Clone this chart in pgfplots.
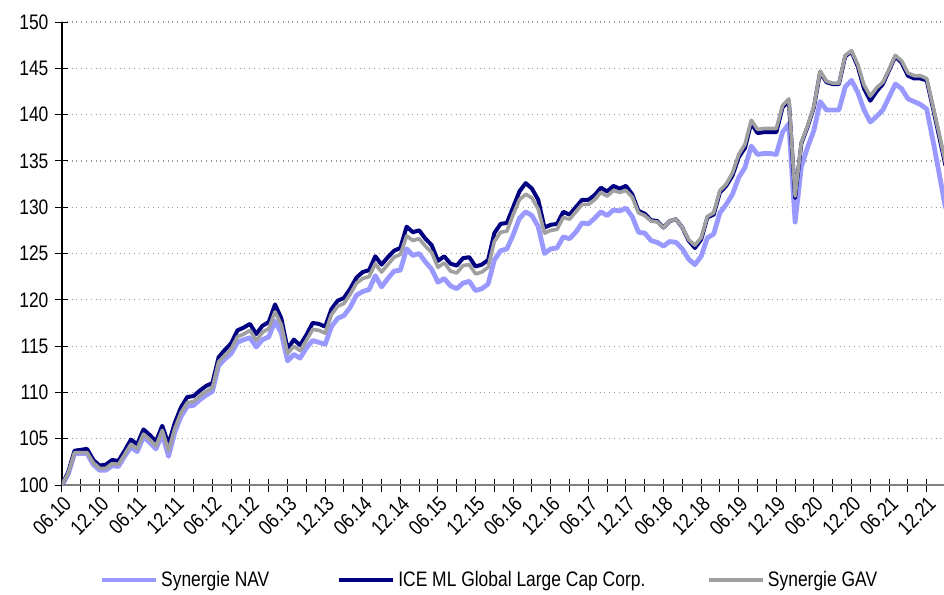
\documentclass[border=0pt]{standalone}
\usepackage{fontspec}
\setmainfont{Liberation Sans}[FakeStretch=0.83]
\usepackage{pgfplots}
\usepackage{pgfplotstable}
\pgfplotsset{compat=1.18}
\definecolor{navc}{RGB}{153,153,255}
\definecolor{icec}{RGB}{0,0,128}
\definecolor{gavc}{RGB}{160,160,160}
\pgfplotstableread{
m nav ice gav
0 100.0 100.0 100.0
1 101.2 101.4 101.3
2 103.4 103.7 103.5
3 103.4 103.8 103.5
4 103.4 103.9 103.5
5 102.2 102.7 102.4
6 101.6 102.1 101.8
7 101.6 102.2 101.8
8 102.1 102.7 102.3
9 102.0 102.6 102.2
10 103.1 103.7 103.3
11 104.1 104.9 104.4
12 103.6 104.4 103.9
13 105.2 106.0 105.5
14 104.6 105.4 104.9
15 103.9 104.7 104.2
16 105.5 106.4 105.9
17 103.1 104.4 103.7
18 105.7 106.7 106.1
19 107.4 108.4 107.8
20 108.5 109.5 108.9
21 108.6 109.6 109.0
22 109.2 110.2 109.6
23 109.7 110.7 110.1
24 110.1 111.0 110.5
25 112.9 113.8 113.3
26 113.6 114.6 114.0
27 114.2 115.3 114.7
28 115.4 116.7 116.0
29 115.7 117.0 116.3
30 115.9 117.4 116.7
31 114.9 116.3 115.6
32 115.7 117.2 116.5
33 116.0 117.6 116.9
34 117.7 119.5 118.7
35 116.4 118.0 117.3
36 113.4 114.7 114.2
37 114.1 115.7 115.0
38 113.7 115.1 114.5
39 114.8 116.2 115.6
40 115.6 117.5 116.8
41 115.4 117.4 116.7
42 115.2 117.1 116.4
43 117.1 119.0 118.4
44 118.0 119.9 119.3
45 118.3 120.2 119.6
46 119.2 121.2 120.6
47 120.5 122.4 121.8
48 120.9 123.0 122.3
49 121.1 123.2 122.5
50 122.6 124.7 123.9
51 121.4 123.8 123.0
52 122.3 124.6 123.8
53 123.1 125.3 124.6
54 123.2 125.6 124.9
55 125.5 127.9 126.9
56 124.8 127.3 126.4
57 125.0 127.5 126.6
58 124.1 126.6 125.8
59 123.3 125.9 125.1
60 121.9 124.2 123.5
61 122.3 124.7 124.0
62 121.5 123.9 123.1
63 121.2 123.7 122.9
64 121.8 124.5 123.7
65 122.0 124.6 123.8
66 121.0 123.6 122.8
67 121.2 123.8 123.0
68 121.7 124.3 123.5
69 124.3 127.2 126.3
70 125.3 128.2 127.3
71 125.5 128.3 127.4
72 127.0 130.0 129.2
73 128.8 131.7 130.8
74 129.5 132.6 131.4
75 129.1 132.0 131.0
76 127.9 130.8 129.8
77 125.0 127.8 127.2
78 125.5 128.1 127.5
79 125.6 128.2 127.6
80 126.8 129.5 128.9
81 126.6 129.2 128.7
82 127.3 130.0 129.5
83 128.3 130.8 130.3
84 128.2 130.8 130.3
85 128.8 131.3 130.8
86 129.5 132.1 131.6
87 129.1 131.7 131.2
88 129.7 132.3 131.8
89 129.6 132.0 131.6
90 129.9 132.3 131.8
91 129.0 131.4 131.1
92 127.3 129.6 129.4
93 127.2 129.3 129.1
94 126.4 128.6 128.5
95 126.2 128.5 128.4
96 125.8 127.8 127.8
97 126.3 128.5 128.5
98 126.2 128.7 128.7
99 125.5 127.8 127.8
100 124.4 126.4 126.5
101 123.8 125.6 125.9
102 124.7 126.5 126.7
103 126.7 128.9 129.0
104 127.1 129.2 129.4
105 129.4 131.6 131.8
106 130.3 132.3 132.5
107 131.4 133.4 133.7
108 133.2 135.4 135.7
109 134.3 136.4 136.8
110 136.6 139.1 139.4
111 135.7 138.0 138.4
112 135.8 138.1 138.5
113 135.8 138.1 138.5
114 135.7 138.1 138.5
115 138.1 140.8 141.0
116 139.0 141.5 141.7
117 128.4 131.0 131.2
118 134.4 136.9 137.0
119 136.5 138.7 138.8
120 138.3 140.8 140.9
121 141.4 144.6 144.7
122 140.5 143.5 143.6
123 140.5 143.3 143.4
124 140.5 143.3 143.4
125 143.0 146.3 146.4
126 143.7 146.8 146.9
127 142.4 145.2 145.4
128 140.5 142.8 143.2
129 139.2 141.5 142.0
130 139.8 142.5 142.9
131 140.5 143.3 143.5
132 141.9 144.8 144.9
133 143.3 146.3 146.4
134 142.8 145.6 145.8
135 141.7 144.2 144.5
136 141.4 143.9 144.2
137 141.1 143.9 144.2
138 140.6 143.7 143.9
139 137.2 140.7 140.9
140 133.6 137.6 137.9
141 129.9 134.5 134.8
}\datatable
\begin{document}
\begin{tikzpicture}
\begin{axis}[
  scale only axis,
  width=441pt, height=231.5pt,
  xmin=0, xmax=140.76, ymin=100, ymax=150,
  axis lines*=left,
  axis line style={-},
  x axis line style={draw=gray, line width=1pt},
  y axis line style={draw=black, line width=0.6pt},
  tick align=center,
  major tick length=6.5pt, minor tick length=6.5pt,
  tick style={black, line width=0.5pt},
  ytick={100,105,...,150},
  xtick={0,6,...,138},
  minor xtick={3,9,...,141},
  xticklabels={06.10,12.10,06.11,12.11,06.12,12.12,06.13,12.13,06.14,12.14,06.15,12.15,06.16,12.16,06.17,12.17,06.18,12.18,06.19,12.19,06.20,12.20,06.21,12.21},
  xticklabel style={rotate=45, anchor=north east, inner sep=1pt, font=\fontsize{10.5}{12}\selectfont},
  yticklabel style={font=\fontsize{10.5}{12}\selectfont},
  /pgf/number format/assume math mode=true,
  ymajorgrids,
  major grid style={dotted, gray!80, line width=0.6pt},
  legend style={draw=none, at={(0.485,-0.205)}, anchor=center, font=\fontsize{10.5}{12}\selectfont,
    /tikz/column 2/.style={column sep=32.5pt},
    /tikz/column 4/.style={column sep=29.5pt}, inner sep=0pt,
    nodes={inner sep=1.5pt}},
  legend columns=3,
  legend image code/.code={\draw[#1] (0pt,0pt) -- (27pt,0pt);},
]
\addplot[navc, line width=2.4pt, line join=round] table[x=m, y=nav] {\datatable};
\addlegendentry{Synergie NAV}
\addplot[icec, line width=2pt, line join=round] table[x=m, y=ice] {\datatable};
\addlegendentry{ICE ML Global Large Cap Corp.}
\addplot[gavc, line width=1.8pt, line join=round] table[x=m, y=gav] {\datatable};
\addlegendentry{Synergie GAV}
\end{axis}
\pgfresetboundingbox
\path ([shift={(-31pt,-55pt)}]current axis.south west) rectangle ([shift={(0pt,11pt)}]current axis.north east);
\end{tikzpicture}
\end{document}
